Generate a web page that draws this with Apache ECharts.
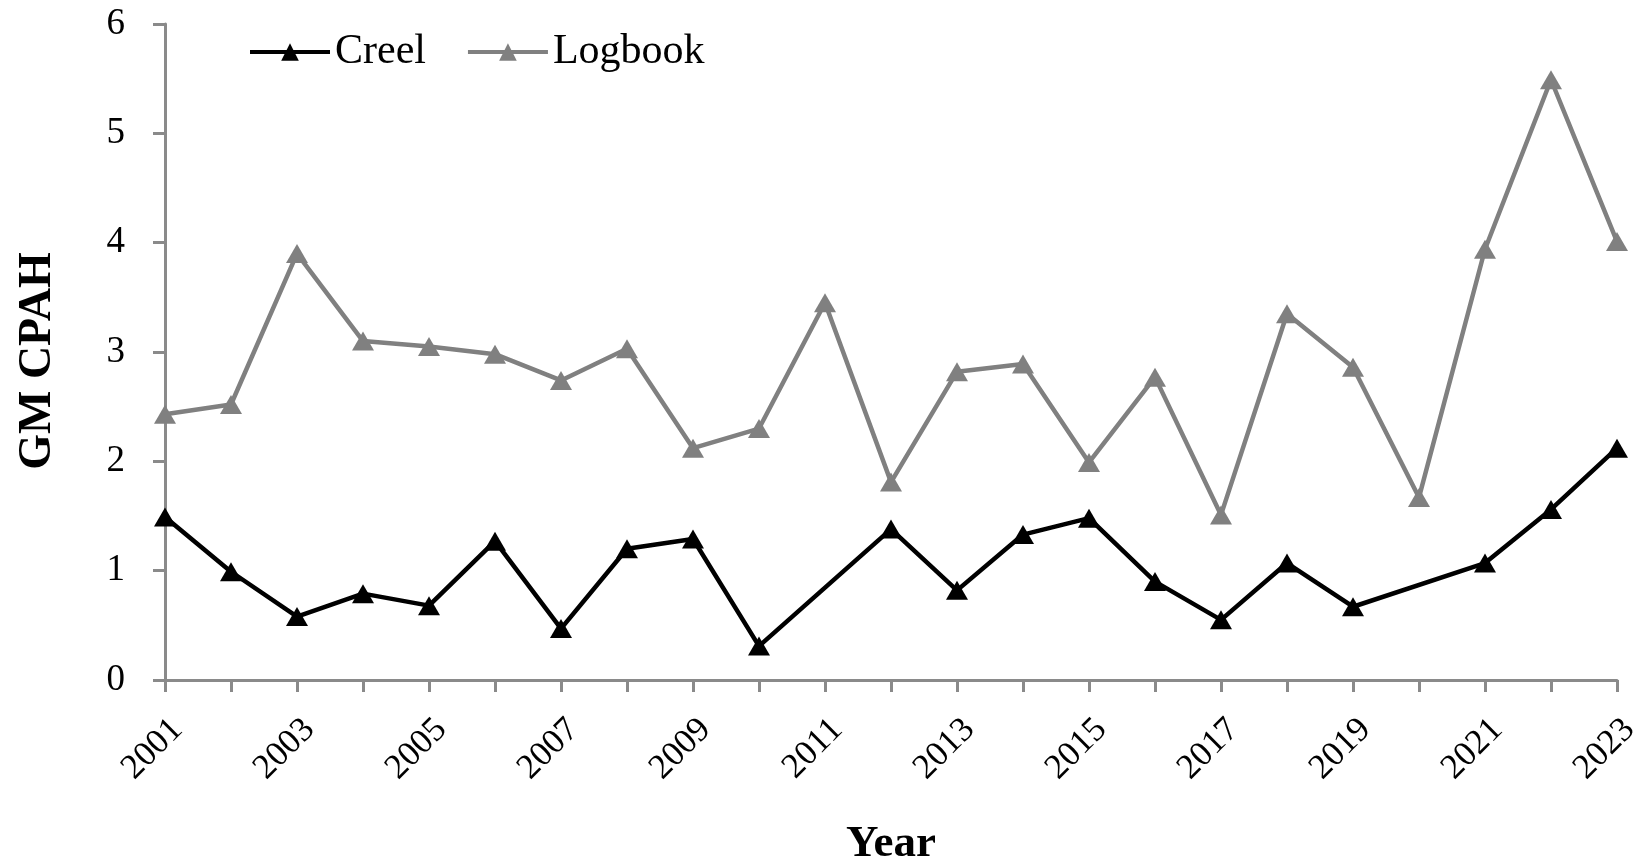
<!DOCTYPE html>
<html>
<head>
<meta charset="utf-8">
<script src="https://cdn.jsdelivr.net/npm/echarts@6/dist/echarts.min.js"></script>
<style>html,body{margin:0;padding:0;background:#fff}#c{width:1635px;height:868px}</style>
</head>
<body>
<div id="c"></div>
<script>
const years = ['2001','2002','2003','2004','2005','2006','2007','2008','2009','2010','2011','2012','2013','2014','2015','2016','2017','2018','2019','2020','2021','2022','2023'];
const creel = [1.49,0.99,0.58,0.79,0.68,1.27,0.47,1.20,1.29,0.31,'-',1.38,0.82,1.33,1.48,0.90,0.55,1.07,0.67,'-',1.07,1.56,2.12];
const logbook = [2.43,2.52,3.90,3.10,3.05,2.98,2.74,3.03,2.12,2.30,3.45,1.81,2.82,2.89,1.99,2.77,1.51,3.35,2.86,1.67,3.94,5.49,4.01];
const yTicks = [0,1,2,3,4,5,6];

const font = '"Liberation Serif", "Times New Roman", serif';
const axisColor = '#8a8a8a';
const chart = echarts.init(document.getElementById('c'), null, {renderer: 'canvas'});
chart.setOption({
  animation: false,
  backgroundColor: '#fff',
  grid: {left: 165, right: 18, top: 24, bottom: 188, containLabel: false, outerBoundsMode: 'none'},
  legend: {
    left: 243, top: 26,
    itemWidth: 80, itemHeight: 22, itemGap: 40,
    lineStyle: {width: 4},
    textStyle: {fontFamily: font, fontSize: 42, color: '#000'},
    data: ['Creel', 'Logbook']
  },
  xAxis: {
    type: 'category',
    data: years,
    boundaryGap: false,
    name: 'Year',
    nameLocation: 'middle',
    nameGap: 142,
    nameTextStyle: {fontFamily: font, fontSize: 45, fontWeight: 'bold', color: '#000'},
    axisLine: {lineStyle: {color: axisColor, width: 3}},
    axisTick: {show: true, alignWithLabel: true, interval: 0, length: 12, lineStyle: {color: axisColor, width: 3}},
    axisLabel: {interval: 1, rotate: 45, margin: 32, verticalAlign: 'top', fontFamily: font, fontSize: 35, color: '#000', hideOverlap: false},
    splitLine: {show: false}
  },
  yAxis: {
    type: 'value',
    min: yTicks[0], max: yTicks[yTicks.length-1], interval: 1,
    name: 'GM CPAH',
    nameLocation: 'middle',
    nameGap: 104,
    nameTextStyle: {fontFamily: font, fontSize: 46, fontWeight: 'bold', color: '#000', padding: [0, 18, 0, 0]},
    axisLine: {show: true, lineStyle: {color: axisColor, width: 3}},
    axisTick: {show: true, length: 12, lineStyle: {color: axisColor, width: 3}},
    axisLabel: {margin: 40, fontFamily: font, fontSize: 37, color: '#000'},
    splitLine: {show: false}
  },
  series: [
    {
      name: 'Creel', type: 'line', data: creel, connectNulls: true,
      symbol: 'triangle', symbolSize: [22, 19],
      lineStyle: {color: '#000', width: 4.5},
      itemStyle: {color: '#000'},
      z: 3
    },
    {
      name: 'Logbook', type: 'line', data: logbook, connectNulls: true,
      symbol: 'triangle', symbolSize: [22, 19],
      lineStyle: {color: '#808080', width: 4.5},
      itemStyle: {color: '#808080'},
      z: 2
    }
  ]
});
</script>
</body>
</html>
